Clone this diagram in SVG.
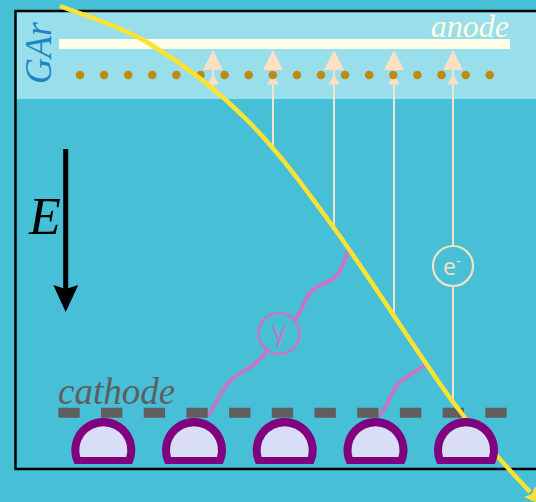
<svg xmlns="http://www.w3.org/2000/svg" width="536" height="502" viewBox="0 0 536 502">
  <defs>
    <style>
      .lbl{font-family:"Liberation Serif","Times New Roman",serif;font-style:italic}
      .sans{font-family:"Open Sans","DejaVu Sans",sans-serif}
      .eline{stroke:#F3E3CB;stroke-width:2;fill:none}
      .head{fill:#FFE0C2}
      .dot{fill:#BF8A0E}
      .pmt-out{fill:#800080}
      .pmt-in{fill:#D9DEF6}
      .photon{stroke:#C676C2;stroke-width:4;fill:none;stroke-linecap:round}
    </style>
    <!-- double arrowhead at the top of each drifting electron -->
    <g id="heads">
      <polygon class="head" points="-10,70 10,70 0,50"/>
      <polygon class="head" points="-6,84.5 6,84.5 0,75"/>
    </g>
    <!-- photomultiplier dome: outer ring and window -->
    <g id="pmt">
      <path class="pmt-out" d="M-28.8,14 A32,32 0 1 1 28.8,14 Z"/>
      <path class="pmt-in" d="M-23,7 A24,24 0 1 1 23,7 Z"/>
    </g>
  </defs>

  <!-- liquid volume and gas gap -->
  <rect x="0" y="0" width="536" height="502" fill="#47BFD6"/>
  <rect x="16" y="12" width="520" height="87" fill="#98DFEB"/>
  <rect id="frame" x="15.5" y="11" width="530" height="458" fill="none" stroke="#000" stroke-width="2.5"/>

  <g id="anode">
    <rect x="59" y="39" width="451" height="10" fill="#FFFEE8"/>
    <text class="lbl" x="509" y="37" font-size="32" fill="#FFFDE6" text-anchor="end">anode</text>
  </g>

  <g id="gas-label">
    <text class="lbl" transform="translate(51,84) rotate(-90)" font-size="38" textLength="62" lengthAdjust="spacingAndGlyphs" fill="#1C84C6">GAr</text>
  </g>

  <g id="field">
    <line x1="65.7" y1="149" x2="65.7" y2="292" stroke="#000" stroke-width="5"/>
    <polygon points="53.3,285 65.7,289 78.3,285 65.7,312" fill="#000"/>
    <text class="lbl" x="29" y="234" font-size="52" fill="#000">E</text>
  </g>

  <!-- connectors: drifting electrons, photons -->
  <g id="connectors">
    <line class="eline" x1="213" y1="93" x2="213" y2="60"/>
    <line class="eline" x1="273" y1="149" x2="273" y2="60"/>
    <line class="eline" x1="334" y1="228" x2="334" y2="60"/>
    <line class="eline" x1="394" y1="313" x2="394" y2="60"/>
    <line class="eline" x1="453" y1="402" x2="453" y2="60"/>
    <use href="#heads" x="213"/>
    <use href="#heads" x="273"/>
    <use href="#heads" x="334"/>
    <use href="#heads" x="394"/>
    <use href="#heads" x="453"/>
    <path class="photon" d="M208,415 C216,407 220,389 232,379 C244,370 256,366 266,352 L296,318 C304,308 304,296 314,289 C324,282 332,282 338,274 C344,266 345,258 348,251"/>
    <path class="photon" d="M379,415 C390,405 390,392 398,384 C406,376 416,372 425,365"/>
  </g>

  <!-- extraction grid -->
  <g id="grid">
    <circle class="dot" cx="80" cy="75" r="4.3"/>
    <circle class="dot" cx="104.1" cy="75" r="4.3"/>
    <circle class="dot" cx="128.2" cy="75" r="4.3"/>
    <circle class="dot" cx="152.3" cy="75" r="4.3"/>
    <circle class="dot" cx="176.4" cy="75" r="4.3"/>
    <circle class="dot" cx="200.5" cy="75" r="4.3"/>
    <circle class="dot" cx="224.6" cy="75" r="4.3"/>
    <circle class="dot" cx="248.7" cy="75" r="4.3"/>
    <circle class="dot" cx="272.8" cy="75" r="4.3"/>
    <circle class="dot" cx="296.9" cy="75" r="4.3"/>
    <circle class="dot" cx="321" cy="75" r="4.3"/>
    <circle class="dot" cx="345.1" cy="75" r="4.3"/>
    <circle class="dot" cx="369.2" cy="75" r="4.3"/>
    <circle class="dot" cx="393.3" cy="75" r="4.3"/>
    <circle class="dot" cx="417.4" cy="75" r="4.3"/>
    <circle class="dot" cx="441.5" cy="75" r="4.3"/>
    <circle class="dot" cx="465.6" cy="75" r="4.3"/>
    <circle class="dot" cx="489.7" cy="75" r="4.3"/>
  </g>

  <g id="cathode">
    <line x1="58.3" y1="412.7" x2="506.7" y2="412.7" stroke="#5F5F5F" stroke-width="10" stroke-dasharray="21.35"/>
    <text class="lbl" x="58" y="404" font-size="37" fill="#5E5E5E">cathode</text>
  </g>

  <g id="gamma">
    <circle cx="279" cy="333.5" r="20.5" fill="#47BFD6" stroke="#C676C2" stroke-width="2.5"/>
    <text class="sans" x="279" y="341" font-size="28" fill="#C676C2" text-anchor="middle">γ</text>
  </g>

  <g id="electron">
    <circle cx="453" cy="266" r="20" fill="#47BFD6" stroke="#F6E2C2" stroke-width="2.2"/>
    <text class="sans" x="443" y="275" font-size="23" fill="#F6E2C2">e<tspan dy="-9" font-size="14">-</tspan></text>
  </g>

  <!-- particle track -->
  <g id="track">
    <path d="M60,6 C75,12.3 118.8,25 150,44 C181.2,63 216.3,89.3 247,120 C277.7,150.7 299.7,181 334,228 C368.3,275 420.3,357.7 453,402 C485.7,446.3 512,472 530,492" fill="none" stroke="#FBE233" stroke-width="4.5"/>
    <polygon points="542,505 524,497 532,494 535,486" fill="#FBE233"/>
  </g>

  <g id="pmts">
    <use href="#pmt" x="103.3" y="450"/>
    <use href="#pmt" x="194" y="450"/>
    <use href="#pmt" x="284.7" y="450"/>
    <use href="#pmt" x="375.5" y="450"/>
    <use href="#pmt" x="466" y="450"/>
  </g>
</svg>
